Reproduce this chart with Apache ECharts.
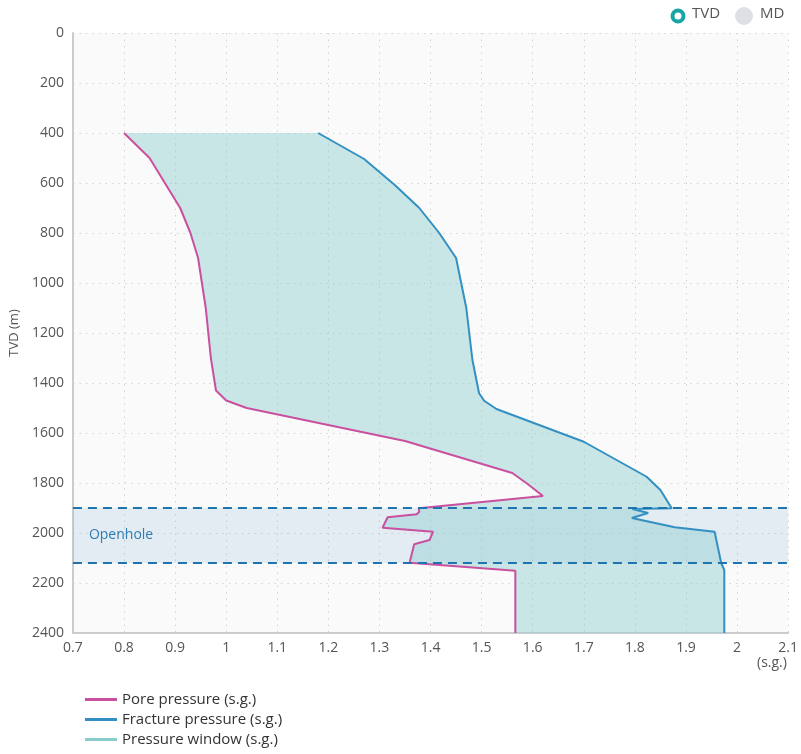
<!DOCTYPE html>
<html>
<head>
<meta charset="utf-8">
<script src="https://cdn.jsdelivr.net/npm/echarts@6/dist/echarts.min.js"></script>
<style>
  html, body { margin: 0; padding: 0; background: #fff; }
  #chart { width: 801px; height: 754px; }
</style>
</head>
<body>
<div id="chart"></div>
<script>
// pore pressure profile (s.g. vs TVD m)
const poreDepth = [400, 500, 700, 800, 900, 1100, 1300, 1430, 1470, 1500, 1632, 1760, 1804, 1852,
  1901, 1915, 1925, 1937, 1979, 1995, 2028, 2045, 2119, 2151, 2400]
const porePressure = [0.80, 0.85, 0.91, 0.93, 0.945, 0.96, 0.97, 0.98, 1.0, 1.04, 1.35, 1.56, 1.59, 1.62,
  1.377, 1.378, 1.373, 1.316, 1.306, 1.405, 1.398, 1.368, 1.359, 1.566, 1.566]

// fracture pressure profile
const fracDepth = [400, 504, 608, 700, 800, 900, 1100, 1308, 1441, 1471, 1504, 1635, 1775, 1828,
  1901, 1904, 1920, 1940, 1977, 1995, 2121, 2148, 2400]
const fracPressure = [1.18, 1.27, 1.33, 1.378, 1.417, 1.45, 1.47, 1.482, 1.495, 1.505, 1.529, 1.70, 1.823, 1.85,
  1.872, 1.795, 1.826, 1.794, 1.878, 1.956, 1.969, 1.975, 1.975]

const openholeTop = 1900
const openholeBottom = 2120

const COLORS = {
  pore: '#c9509f',
  frac: '#3290c2',
  window: '#88cccc',
  band: '#1f74b0',
}

const porePts = porePressure.map((p, i) => [p, poreDepth[i]])
const fracPts = fracPressure.map((p, i) => [p, fracDepth[i]])
// closed polygon: pore down, fracture back up
const windowPts = porePts.concat(fracPts.slice().reverse())

const chart = echarts.init(document.getElementById('chart'), null, { renderer: 'canvas' })

const FONT = 'Open Sans'
const gridLine = { show: true, lineStyle: { color: '#d4d4d4', type: [1.5, 5], width: 1 } }
const axisFont = { color: '#555', fontSize: 14, fontFamily: FONT }

chart.setOption({
  animation: false,
  backgroundColor: '#fff',
  textStyle: { fontFamily: FONT },
  grid: {
    left: 72, right: 11, top: 33, bottom: 121,
    show: true, backgroundColor: '#fafafa', borderWidth: 0,
  },
  legend: {
    orient: 'vertical', left: 80, top: 687,
    itemWidth: 32, itemHeight: 3, itemGap: 5, icon: 'rect',
    textStyle: { color: '#333', fontSize: 15, fontFamily: FONT },
    data: ['Pore pressure (s.g.)', 'Fracture pressure (s.g.)', 'Pressure window (s.g.)'],
    selectedMode: false,
  },
  xAxis: {
    type: 'value', min: 0.7, max: 2.1, interval: 0.1,
    axisLine: { show: true, onZero: false, lineStyle: { color: '#ccc', width: 2 } },
    axisTick: { show: false },
    axisLabel: { ...axisFont, margin: 8, formatter: (v) => String(Math.round(v * 10) / 10) },
    splitLine: gridLine,
  },
  yAxis: {
    type: 'value', inverse: true, min: 0, max: 2400, interval: 200,
    name: 'TVD (m)', nameLocation: 'middle', nameGap: 46, nameRotate: 90,
    nameTextStyle: { color: '#555', fontSize: 13, fontFamily: FONT },
    axisLine: { show: true, onZero: false, lineStyle: { color: '#ccc', width: 2 } },
    axisTick: { show: false },
    axisLabel: { ...axisFont, margin: 9, formatter: (v) => String(v) },
    splitLine: gridLine,
  },
  graphic: [
    { type: 'circle', shape: { cx: 678, cy: 16, r: 5.5 }, style: { fill: '#fff', stroke: '#17a5a5', lineWidth: 4 } },
    { type: 'text', left: 692, top: 6, style: { text: 'TVD', fill: '#555', font: '15px "Open Sans"' } },
    { type: 'circle', shape: { cx: 744, cy: 16, r: 9 }, style: { fill: '#dde1e5' } },
    { type: 'text', left: 760, top: 6, style: { text: 'MD', fill: '#555', font: '15px "Open Sans"' } },
    { type: 'text', left: 757, top: 656, style: { text: '(s.g.)', fill: '#555', font: '14px "Open Sans"' } },
  ],
  series: [
    {
      // openhole band
      name: 'openhole-band', type: 'line', data: [], z: 1, silent: true,
      markArea: {
        silent: true,
        itemStyle: { color: 'rgba(40,120,190,0.1)' },
        label: {
          show: true, position: 'insideLeft', distance: 16,
          color: '#2a7db5', fontSize: 14, fontFamily: FONT,
        },
        data: [[{ yAxis: openholeTop, name: 'Openhole' }, { yAxis: openholeBottom }]],
      },
    },
    {
      name: 'Pressure window (s.g.)', type: 'custom', z: 2, silent: true,
      itemStyle: { color: COLORS.window },
      data: windowPts,
      renderItem: (params, api) => {
        if (params.dataIndex !== 0) return null
        const points = windowPts.map((d) => api.coord(d))
        return {
          type: 'polygon',
          shape: { points },
          style: { fill: 'rgba(136,204,204,0.43)' },
        }
      },
    },
    {
      name: 'Pore pressure (s.g.)', type: 'line', z: 3,
      showSymbol: false, data: porePts,
      lineStyle: { color: COLORS.pore, width: 2 },
      itemStyle: { color: COLORS.pore },
    },
    {
      name: 'Fracture pressure (s.g.)', type: 'line', z: 3,
      showSymbol: false, data: fracPts,
      lineStyle: { color: COLORS.frac, width: 2 },
      itemStyle: { color: COLORS.frac },
    },
    {
      // dashed openhole limits on top
      name: 'openhole-lines', type: 'line', data: [], z: 4, silent: true,
      markLine: {
        silent: true, symbol: 'none', label: { show: false },
        lineStyle: { color: COLORS.band, type: [9, 6], width: 2 },
        data: [{ yAxis: openholeTop }, { yAxis: openholeBottom }],
      },
    },
  ],
})
</script>
</body>
</html>
